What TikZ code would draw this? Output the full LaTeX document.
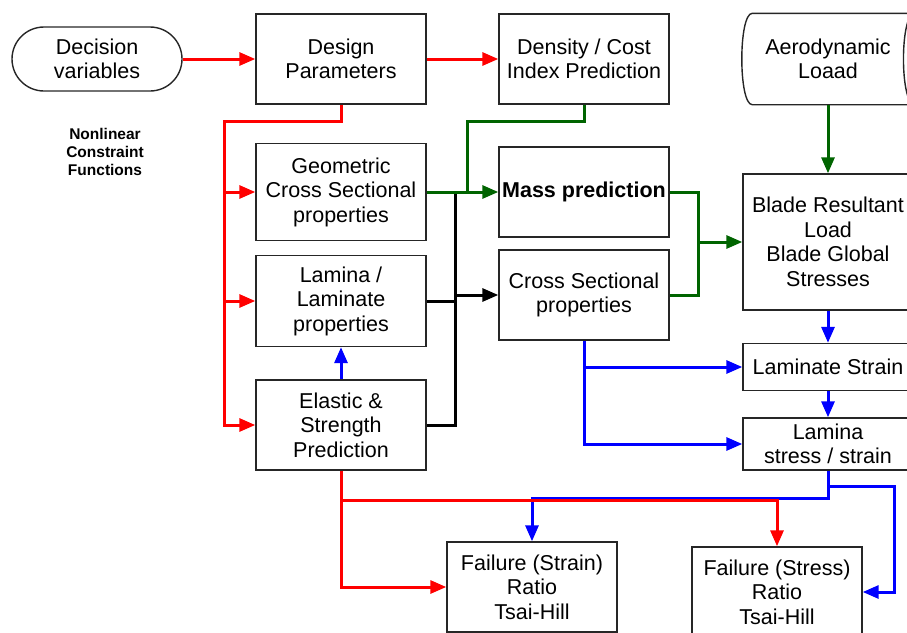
\documentclass[tikz,border=0pt]{standalone}
\usepackage{fontspec}
\setmainfont{Liberation Sans}
\usepackage{xcolor}
\usetikzlibrary{arrows.meta, calc, positioning}
\definecolor{dkgreen}{RGB}{0,100,0}
\begin{document}
\begin{tikzpicture}[x=1pt, y=-1pt,
		box/.style={draw=black!85, line width=1.4pt, minimum width=170pt, minimum height=90pt,
			align=center, inner sep=2pt, font=\fontsize{21.5}{24.5}\selectfont},
		wire/.style={line width=3pt, -{Triangle[length=16pt, width=13pt]}},
		line/.style={line width=3pt}]
	\useasboundingbox (0,0) rectangle (907,632);
	\clip (0,0) rectangle (907,632);
	% boxes
	\node[box, rounded corners=32pt, minimum height=64pt] (dec) at (97,59) {Decision\\variables};
	\node[box] (design) at (341,59) {Design\\Parameters};
	\node[box] (density) at (584,59) {Density / Cost\\Index Prediction};
	\node[box, draw=none] (aero) at (828,59) {Aerodynamic\\Loaad};
	\draw[black!85, line width=1.4pt] ([xshift=10pt]aero.north west)
		.. controls ([xshift=-4pt]aero.north west) and ([xshift=-4pt]aero.south west) .. ([xshift=10pt]aero.south west)
		-- ([xshift=1pt]aero.south east)
		.. controls ([xshift=-14pt]aero.south east) and ([xshift=-14pt]aero.north east) .. ([xshift=1pt]aero.north east)
		-- cycle;
	\node[align=center, font=\fontsize{15.5}{18}\selectfont\bfseries] (nlc) at (105,152) {Nonlinear\\Constraint\\Functions};
	\node[box, minimum height=97pt] (geo) at (341,192) {Geometric\\Cross Sectional\\properties};
	\node[box, font=\fontsize{21.5}{24.5}\selectfont\bfseries] (mass) at (584,192) {Mass prediction};
	\node[box, minimum height=136pt] (blade) at (828,242) {Blade Resultant\\Load\\Blade Global\\Stresses};
	\node[box, minimum height=91pt] (lam) at (341,301) {Lamina /\\Laminate\\properties};
	\node[box] (cross) at (584,295) {Cross Sectional\\properties};
	\node[box, minimum height=47pt] (lstrain) at (828,367) {Laminate Strain};
	\node[box] (elastic) at (341,425) {Elastic \&\\Strength\\Prediction};
	\node[box, minimum height=52pt] (lstress) at (828,444) {Lamina\\stress / strain};
	\node[box] (fstrain) at (532,587) {Failure (Strain)\\Ratio\\Tsai-Hill};
	\node[box] (fstress) at (777,592) {Failure (Stress)\\Ratio\\Tsai-Hill};
	% bends
	\coordinate (rtop) at (224,121);
	\coordinate (rlow) at (341,500);
	\coordinate (gtop) at (467,121);
	\coordinate (gjoin) at (698,242);
	\coordinate (kbus) at (455,192);
	\coordinate (blow) at (828,498);
	\coordinate (bright) at (894,486);
	% green
	\draw[wire, dkgreen] (aero.south) -- (blade.north);
	\draw[line, dkgreen] (density.south) |- (gtop) -- (gtop |- mass.west);
	\draw[line, dkgreen] (mass.east) -| (gjoin);
	\draw[line, dkgreen] (cross.east) -| (gjoin);
	\draw[wire, dkgreen] (gjoin) -- (blade.west);
	% black
	\draw[line] (kbus) -- (kbus |- elastic.east) -- (elastic.east);
	\draw[line] (lam.east) -- (kbus |- lam.east);
	\draw[wire] (kbus |- cross.west) -- (cross.west);
	\draw[wire, dkgreen] (geo.east) -- (mass.west);
	% blue
	\draw[wire, blue] (elastic.north) -- (lam.south);
	\draw[wire, blue] (blade.south) -- (lstrain.north);
	\draw[wire, blue] (lstrain.south) -- (lstress.north);
	\draw[wire, blue] (cross.south) |- (lstress.west);
	\draw[wire, blue] (cross.south |- lstrain.west) -- (lstrain.west);
	\draw[wire, blue] (lstress.south) -- (blow) -| (fstrain.north);
	\draw[wire, blue] (lstress.south |- bright) -- (bright) |- (fstress.east);
	% red
	\draw[wire, red] (dec) -- (design);
	\draw[wire, red] (design) -- (density);
	\draw[wire, red] (design.south) |- (rtop) |- (elastic.west);
	\draw[wire, red] (rtop |- geo.west) -- (geo.west);
	\draw[wire, red] (rtop |- lam.west) -- (lam.west);
	\draw[wire, red] (elastic.south) |- (fstrain.west);
	\draw[wire, red] (rlow) -| (fstress.north);
\end{tikzpicture}
\end{document}
